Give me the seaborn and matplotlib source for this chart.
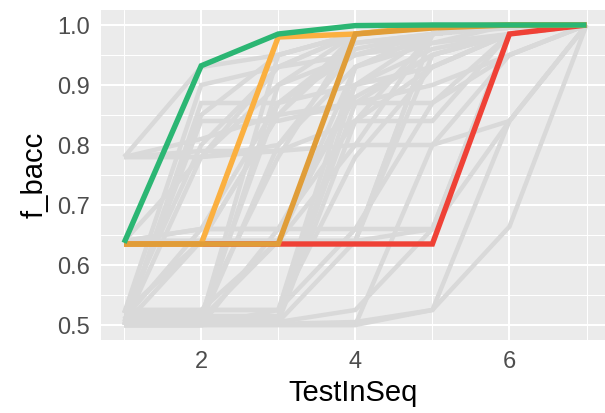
import numpy as np
import pandas as pd
import matplotlib
matplotlib.use("Agg")
import matplotlib.pyplot as plt
import seaborn as sns

# ---- data ----
test_in_seq = [1, 2, 3, 4, 5, 6, 7]

gray_runs = [
    [0.500, 0.500, 0.500, 0.500, 0.525, 0.664, 1.0],
    [0.502, 0.502, 0.502, 0.505, 0.525, 0.840, 1.0],
    [0.500, 0.500, 0.500, 0.500, 0.800, 0.950, 1.0],
    [0.505, 0.505, 0.505, 0.640, 0.985, 0.995, 1.0],
    [0.500, 0.500, 0.505, 0.840, 0.985, 1.000, 1.0],
    [0.510, 0.510, 0.640, 0.900, 0.985, 1.000, 1.0],
    [0.520, 0.520, 0.780, 0.985, 0.995, 1.000, 1.0],
    [0.500, 0.640, 0.640, 0.800, 0.985, 1.000, 1.0],
    [0.520, 0.800, 0.930, 0.985, 1.000, 1.000, 1.0],
    [0.510, 0.515, 0.870, 0.970, 0.985, 1.000, 1.0],
    [0.500, 0.525, 0.525, 0.930, 0.985, 1.000, 1.0],
    [0.525, 0.525, 0.525, 0.780, 0.930, 0.985, 1.0],
    [0.510, 0.660, 0.870, 0.950, 0.985, 1.000, 1.0],
    [0.500, 0.500, 0.525, 0.660, 0.870, 0.985, 1.0],
    [0.505, 0.505, 0.505, 0.525, 0.660, 0.985, 1.0],
    [0.520, 0.640, 0.850, 0.985, 1.000, 1.000, 1.0],
    [0.500, 0.850, 0.950, 0.985, 1.000, 1.000, 1.0],
    [0.510, 0.510, 0.950, 0.985, 1.000, 1.000, 1.0],
    [0.525, 0.525, 0.640, 0.640, 0.950, 0.985, 1.0],
    [0.500, 0.505, 0.800, 0.930, 0.970, 1.000, 1.0],
    [0.515, 0.515, 0.515, 0.870, 0.950, 0.985, 1.0],
    [0.500, 0.500, 0.660, 0.840, 0.930, 0.985, 1.0],
    [0.640, 0.640, 0.640, 0.640, 0.660, 0.840, 1.0],
    [0.640, 0.660, 0.660, 0.660, 0.660, 0.985, 1.0],
    [0.640, 0.640, 0.850, 0.970, 0.985, 1.000, 1.0],
    [0.640, 0.780, 0.900, 0.985, 1.000, 1.000, 1.0],
    [0.640, 0.640, 0.640, 0.930, 0.985, 1.000, 1.0],
    [0.780, 0.930, 0.950, 0.985, 1.000, 1.000, 1.0],
    [0.780, 0.780, 0.790, 0.800, 0.800, 0.840, 1.0],
    [0.780, 0.810, 0.850, 0.870, 0.900, 0.950, 1.0],
    [0.780, 0.780, 0.930, 0.985, 1.000, 1.000, 1.0],
    [0.780, 0.790, 0.790, 0.840, 0.840, 0.985, 1.0],
    [0.500, 0.870, 0.870, 0.900, 0.930, 0.985, 1.0],
    [0.520, 0.900, 0.930, 0.950, 0.985, 1.000, 1.0],
    [0.505, 0.840, 0.840, 0.870, 0.870, 0.950, 1.0],
    [0.500, 0.500, 0.900, 0.950, 0.970, 0.985, 1.0],
    [0.510, 0.510, 0.510, 0.900, 0.960, 0.985, 1.0],
    [0.520, 0.640, 0.640, 0.640, 0.985, 1.000, 1.0],
    [0.500, 0.780, 0.800, 0.960, 0.985, 1.000, 1.0],
    [0.640, 0.660, 0.660, 0.880, 0.950, 0.985, 1.0],
]

red_run = [0.635, 0.635, 0.635, 0.635, 0.635, 0.985, 1.0]
light_orange_run = [0.635, 0.635, 0.980, 0.985, 0.998, 1.0, 1.0]
dark_orange_run = [0.635, 0.635, 0.635, 0.985, 0.995, 1.0, 1.0]
green_run = [0.637, 0.932, 0.985, 0.999, 1.0, 1.0, 1.0]

highlight_names = ["red", "light_orange", "dark_orange", "green"]
highlight_colors = ["#EF4136", "#FBB040", "#E09D38", "#2BB673"]
highlight_runs = [red_run, light_orange_run, dark_orange_run, green_run]

# ---- build frames ----
gray_df = pd.DataFrame(
    [(i, x, y) for i, run in enumerate(gray_runs) for x, y in zip(test_in_seq, run)],
    columns=["run", "TestInSeq", "f_bacc"],
)

sns.set_theme(style="darkgrid")
plt.rcParams["font.family"] = ["Liberation Sans", "DejaVu Sans"]

fig = plt.figure(figsize=(6.05, 4.13), dpi=100)
ax = fig.add_axes([101 / 605, 73 / 413, 1 - 101 / 605, 330 / 413])
ax.set_facecolor("#EBEBEB")

sns.lineplot(data=gray_df, x="TestInSeq", y="f_bacc", units="run",
             estimator=None, color="#D9D9D9", linewidth=3.2, ax=ax,
             legend=False, solid_joinstyle="miter", solid_capstyle="butt")

for name, col, run in zip(highlight_names, highlight_colors, highlight_runs):
    hdf = pd.DataFrame({"TestInSeq": test_in_seq, "f_bacc": run})
    sns.lineplot(data=hdf, x="TestInSeq", y="f_bacc", color=col,
                 linewidth=3.9, ax=ax, legend=False,
                 solid_joinstyle="miter", solid_capstyle="butt")

ax.set_xlim(0.7, 7.24)
ax.set_ylim(0.475, 1.025)
ax.set_xticks([2, 4, 6])
ax.set_xticks([1, 3, 5, 7], minor=True)
ax.set_yticks([0.5, 0.6, 0.7, 0.8, 0.9, 1.0])
ax.set_yticks([0.55, 0.65, 0.75, 0.85, 0.95], minor=True)
ax.set_yticklabels(["0.5", "0.6", "0.7", "0.8", "0.9", "1.0"])
ax.set_xticklabels(["2", "4", "6"])

ax.grid(which="major", color="white", linewidth=1.45)
ax.grid(which="minor", color="white", linewidth=0.75)
ax.set_axisbelow(True)
for s in ax.spines.values():
    s.set_visible(False)

ax.tick_params(which="major", length=5, width=1.1, color="#333333",
               labelsize=17, labelcolor="#4D4D4D", pad=3)
ax.tick_params(which="minor", length=0)
ax.set_xlabel("TestInSeq", fontsize=21, color="black", labelpad=4)
ax.set_ylabel("f_bacc", fontsize=21, color="black", labelpad=6)

fig.savefig("out.png", dpi=100)
